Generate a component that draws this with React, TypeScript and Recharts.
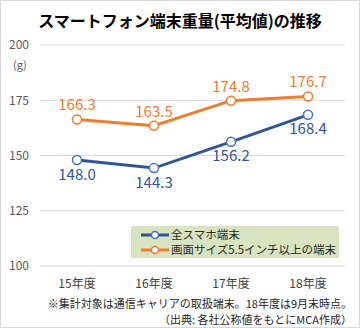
import { LineChart, Line, XAxis, YAxis, CartesianGrid, LabelList } from "recharts";

const years = ["15年度", "16年度", "17年度", "18年度"];
const allPhones = [148.0, 144.3, 156.2, 168.4];
const largePhones = [166.3, 163.5, 174.8, 176.7];
const yTicks = [100, 125, 150, 175, 200];

const BLUE = "#2f5597";
const BLUE_DOT = "#4472c4";
const ORANGE = "#ed7d31";
const FONT = "'Noto Sans CJK JP', 'Noto Sans', sans-serif";

const data = years.map((y, i) => ({ year: y, all: allPhones[i], large: largePhones[i] }));

const series = [
  { key: "all", name: "全スマホ端末", color: BLUE, dot: BLUE_DOT },
  { key: "large", name: "画面サイズ5.5インチ以上の端末", color: ORANGE, dot: ORANGE },
];

const LegendBox = () => (
  <div
    style={{
      position: "absolute",
      left: 130,
      top: 225,
      background: "#d8e4bf",
      width: 208,
      height: 32,
      boxSizing: "border-box",
      padding: "1px 0 0 10px",
      fontSize: 11.5,
      color: "#262626",
      whiteSpace: "nowrap",
    }}
  >
    {series.map((s) => (
      <div key={s.key} style={{ display: "flex", alignItems: "center", height: 15 }}>
        <svg width={28} height={12} style={{ marginRight: 2 }}>
          <line x1={0} y1={6} x2={28} y2={6} stroke={s.color} strokeWidth={3} />
          <circle cx={14} cy={6} r={3.5} fill="#fff" stroke={s.dot} strokeWidth={1.5} />
        </svg>
        <span style={{ lineHeight: "15px" }}>{s.name}</span>
      </div>
    ))}
  </div>
);

export default function App() {
  return (
    <div
      style={{
        position: "absolute",
        left: 0,
        top: 0,
        width: 360,
        height: 328,
        background: "#fff",
        boxSizing: "border-box",
        border: "1px solid #d9d9d9",
        fontFamily: FONT,
      }}
    >
      <div
        style={{
          position: "absolute",
          top: 8,
          left: 0,
          width: 358,
          textAlign: "center",
          fontSize: 16,
          fontWeight: "bold",
          color: "#000",
          lineHeight: "22px",
        }}
      >
        スマートフォン端末重量(平均値)の推移
      </div>
      <div style={{ position: "absolute", left: 12, top: 55, fontSize: 11, color: "#595959" }}>(g)</div>
      <LineChart
        width={358}
        height={326}
        data={data}
        margin={{ top: 44, right: 14, left: -1, bottom: 39 }}
        style={{ position: "absolute", left: 0, top: 0 }}
      >
        <CartesianGrid vertical={false} stroke="#d9d9d9" strokeWidth={1} />
        <XAxis
          dataKey="year"
          axisLine={false}
          tickLine={false}
          height={22}
          padding={{ left: 37, right: 37 }}
          tick={{ fontSize: 12, fill: "#404040", fontFamily: FONT }}
          dy={5}
        />
        <YAxis
          domain={[100, 200]}
          ticks={yTicks}
          axisLine={false}
          tickLine={false}
          width={40}
          tick={{ fontSize: 12, fill: "#595959", fontFamily: FONT }}
          dx={-3}
        />
        {series.map((s) => (
          <Line
            key={s.key}
            dataKey={s.key}
            name={s.name}
            stroke={s.color}
            strokeWidth={3}
            dot={{ r: 4.5, fill: "#fff", stroke: s.dot, strokeWidth: 1.5 }}
            activeDot={false}
            isAnimationActive={false}
          >
            <LabelList
              dataKey={s.key}
              position={s.key === "all" ? "bottom" : "top"}
              offset={9}
              formatter={(v: number) => v.toFixed(1)}
              style={{ fontSize: 15, fill: s.color, fontFamily: FONT }}
            />
          </Line>
        ))}
      </LineChart>
      <LegendBox />
      <div
        style={{
          position: "absolute",
          right: 7,
          top: 294,
          textAlign: "right",
          fontSize: 11,
          color: "#262626",
          lineHeight: "16px",
          whiteSpace: "nowrap",
        }}
      >
        <div>※集計対象は通信キャリアの取扱端末。18年度は9月末時点。</div>
        <div>（出典: 各社公称値をもとにMCA作成）</div>
      </div>
    </div>
  );
}
